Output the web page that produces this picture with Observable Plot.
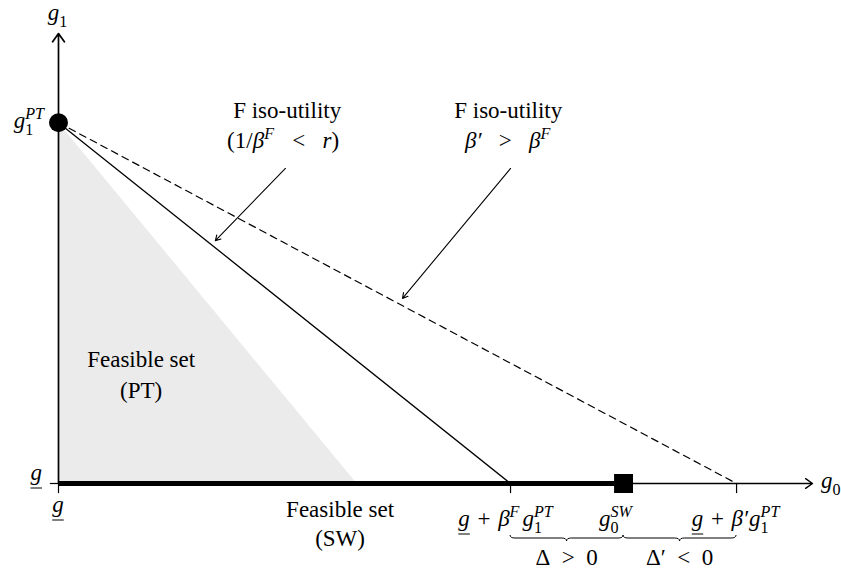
<!DOCTYPE html>
<html>
<head>
<meta charset="utf-8">
<script src="https://cdn.jsdelivr.net/npm/d3@7"></script>
<script src="https://cdn.jsdelivr.net/npm/@observablehq/plot@0.6"></script>
<style>
  html, body { margin: 0; padding: 0; background: #fff; }
  svg text { font-family: "Liberation Serif", "DejaVu Serif", serif; }
</style>
</head>
<body>
<script>
// ---- conceptual values (abstract units) ----
const g1PT = 10;            // g1^PT on the vertical axis
const interceptF = 10;      // g + beta^F g1^PT
const interceptPrime = 15;  // g + beta' g1^PT
const g0SW = 12.5;          // g0^SW
const shadeEnd = 6.6;       // end of PT feasible set on g0 axis
const xMax = 16.68;         // arrow tip of g0 axis
const yMax = 12.47;         // arrow tip of g1 axis

const solidLine = [{x: 0, y: g1PT}, {x: interceptF, y: 0}];
const dashedLine = [{x: 0, y: g1PT}, {x: interceptPrime, y: 0}];
const shade = [{x: 0, y: g1PT}, {x: shadeEnd, y: 0}];
const xTicks = [0, interceptF, interceptPrime];
const callouts = [
  {x1: 5.02, y1: 8.73, x2: 3.47, y2: 6.73},
  {x1: 10.0, y1: 8.73, x2: 7.61, y2: 5.13}
];

const FS = 23;

const plot = Plot.plot({
  width: 841,
  height: 573,
  x: {domain: [0, xMax], range: [58, 812], axis: null},
  y: {domain: [0, yMax], range: [483, 33], axis: null},
  style: {background: "white", overflow: "visible"},
  marks: [
    Plot.areaY(shade, {x: "x", y: "y", fill: "#ebebeb"}),
    Plot.line(solidLine, {x: "x", y: "y", stroke: "black", strokeWidth: 1.3}),
    Plot.line(dashedLine, {x: "x", y: "y", stroke: "black", strokeWidth: 1.2, strokeDasharray: "7,5"}),
    Plot.arrow([{x1: 0, y1: 0, x2: 0, y2: yMax}], {x1: "x1", y1: "y1", x2: "x2", y2: "y2", stroke: "black", strokeWidth: 1.7, headLength: 9, headAngle: 70}),
    Plot.arrow([{x1: 0, y1: 0, x2: xMax, y2: 0}], {x1: "x1", y1: "y1", x2: "x2", y2: "y2", stroke: "black", strokeWidth: 1.4, headLength: 9, headAngle: 70}),
    Plot.ruleY([0], {x1: 0, x2: g0SW, stroke: "black", strokeWidth: 5}),
    Plot.ruleX(xTicks, {x: d => d, y1: 0, y2: -0.28, stroke: "black", strokeWidth: 1.2}),
    Plot.ruleY([0], {x1: -0.18, x2: 0, stroke: "black", strokeWidth: 1.2}),
    Plot.arrow(callouts, {x1: "x1", y1: "y1", x2: "x2", y2: "y2", stroke: "black", strokeWidth: 1.1, headLength: 8, headAngle: 60}),
    Plot.dot([{x: 0, y: g1PT}], {x: "x", y: "y", r: 9.5, fill: "black"}),
    Plot.dot([{x: g0SW, y: 0}], {x: "x", y: "y", r: 10.7, symbol: "square", fill: "black"})
  ]
});
document.body.append(plot);

const sx = plot.scale("x").apply, sy = plot.scale("y").apply;
const svg = d3.select(plot);
const layer = svg.append("g").attr("text-anchor", "start");

// rich text helper: pieces {t, i (italic), u (underline), sup, sub, gap}
function rich(cx, base, pieces, anchor = "middle", size = FS) {
  const g = layer.append("g");
  let x = 0;
  const small = size * 0.7;
  function put(t, xx, yy, sz, italic) {
    const el = g.append("text").attr("x", xx).attr("y", yy)
      .attr("text-anchor", "start")
      .attr("font-size", sz).attr("font-style", italic ? "italic" : "normal")
      .attr("fill", "black").style("white-space", "pre").text(t);
    return el.node().getComputedTextLength();
  }
  for (const p of pieces) {
    if (p.gap !== undefined) { x += p.gap; continue; }
    if (p.t !== undefined) {
      const w = put(p.t, x, 0, size, p.i);
      if (p.u) g.append("line").attr("x1", x).attr("x2", x + w).attr("y1", 8).attr("y2", 8).attr("stroke", "black").attr("stroke-width", 1);
      x += w;
    } else {
      let w1 = 0, w2 = 0;
      if (p.sup) w1 = put(p.sup, x, -size * 0.38, small, p.supI);
      if (p.sub) w2 = put(p.sub, x, size * 0.3, small, false);
      x += Math.max(w1, w2) + 1;
    }
  }
  const off = anchor === "middle" ? -x / 2 : anchor === "end" ? -x : 0;
  g.attr("transform", `translate(${cx + off},${base})`);
}

// axis labels
rich(sx(0), sy(12.83), [{t: "g", i: true}, {sub: "1"}]);
rich(sx(0) - 13, sy(g1PT) + 6, [{t: "g", i: true}, {sup: "PT", sub: "1", supI: true}], "end");
rich(sx(0) - 16, sy(0) - 3, [{t: "g", i: true, u: true}], "end");
rich(sx(0), sy(0) + 29, [{t: "g", i: true, u: true}]);
rich(sx(xMax) + 9, sy(0) + 5, [{t: "g", i: true}, {sub: "0"}], "start");

// annotations
rich(sx(5.07), sy(10.11), [{t: "F iso-utility"}]);
rich(sx(4.98), sy(9.28), [{t: "(1/"}, {t: "β", i: true}, {sup: "F", supI: true}, {t: "   <   "}, {t: "r", i: true}, {t: ")"}]);
rich(sx(9.96), sy(10.11), [{t: "F iso-utility"}]);
rich(sx(9.96), sy(9.28), [{t: "β′", i: true}, {t: "   >   "}, {t: "β", i: true}, {sup: "F", supI: true}]);
rich(sx(1.84), sy(3.21), [{t: "Feasible set"}]);
rich(sx(1.84), sy(2.36), [{t: "(PT)"}]);
rich(sx(6.24), sy(0) + 34, [{t: "Feasible set"}]);
rich(sx(6.24), sy(0) + 63, [{t: "(SW)"}]);

// bottom tick labels
rich(sx(interceptF) - 4, sy(0) + 43, [{t: "g", i: true, u: true}, {t: "\u2004+\u2004"}, {t: "β", i: true}, {sup: "F", supI: true}, {gap: 2}, {t: "g", i: true}, {sup: "PT", sub: "1", supI: true}]);
rich(sx(g0SW) - 7, sy(0) + 43, [{t: "g", i: true}, {sup: "SW", sub: "0", supI: true}]);
rich(sx(interceptPrime), sy(0) + 43, [{t: "g", i: true, u: true}, {t: "\u2004+\u2004"}, {t: "β′", i: true}, {gap: 1}, {t: "g", i: true}, {sup: "PT", sub: "1", supI: true}]);

// braces
function brace(xa, xb, y0) {
  const xm = (xa + xb) / 2, y1 = y0 + 3, y2 = y0 + 6, r = 5;
  layer.append("path")
    .attr("d", `M${xa},${y0} Q${xa},${y1} ${xa + r},${y1} L${xm - r},${y1} Q${xm},${y1} ${xm},${y2} Q${xm},${y1} ${xm + r},${y1} L${xb - r},${y1} Q${xb},${y1} ${xb},${y0}`)
    .attr("fill", "none").attr("stroke", "black").attr("stroke-width", 1);
}
brace(sx(interceptF), sx(g0SW), sy(0) + 52);
brace(sx(g0SW), sx(interceptPrime), sy(0) + 52);
rich((sx(interceptF) + sx(g0SW)) / 2, sy(0) + 82, [{t: "Δ\u2002>\u20020"}]);
rich((sx(g0SW) + sx(interceptPrime)) / 2, sy(0) + 82, [{t: "Δ′\u2002<\u20020"}]);
</script>
</body>
</html>
